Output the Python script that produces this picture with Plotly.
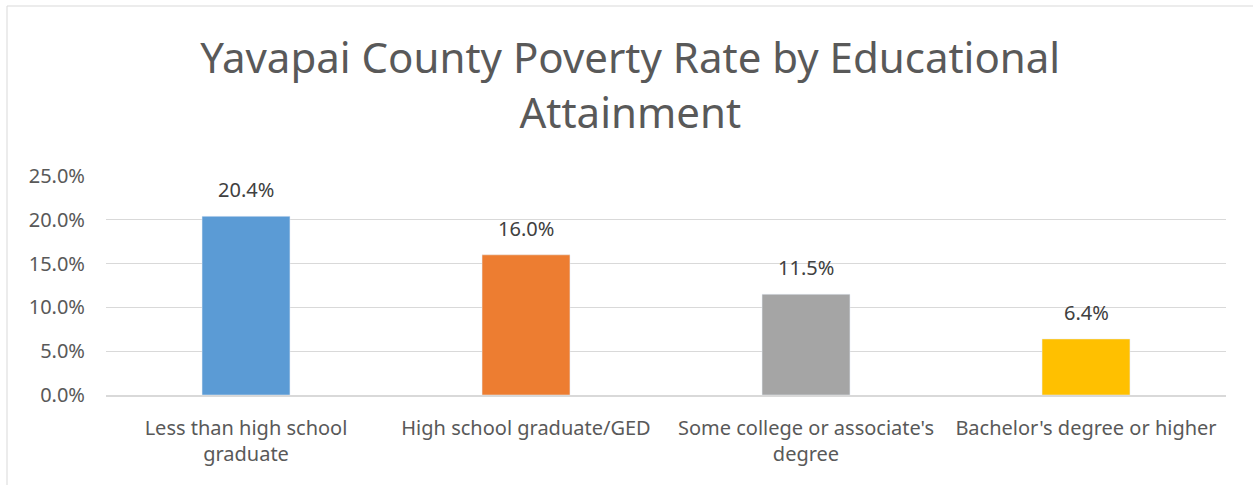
import plotly.graph_objects as go

categories = ["Less than high school<br>graduate", "High school graduate/GED",
              "Some college or associate's<br>degree", "Bachelor's degree or higher"]
values = [0.204, 0.160, 0.115, 0.064]
colors = ["#5B9BD5", "#ED7D31", "#A5A5A5", "#FFC000"]
tick_vals = [0, 0.05, 0.10, 0.15, 0.20, 0.25]
tick_text = ["0.0%", "5.0%", "10.0%", "15.0%", "20.0%", "25.0%"]
title = "Yavapai County Poverty Rate by Educational<br>Attainment"

W, H = 1253, 485
L, R, T, B = 106, 27, 176, 90
pw = W - L - R
ph = H - T - B

fig = go.Figure(go.Bar(
    x=categories, y=values, marker_color=colors, width=0.314,
    hoverinfo="x+y",
))

for c, v in zip(categories, values):
    fig.add_annotation(x=c, y=v, text=f"{v*100:.1f}%", showarrow=False,
                       yanchor="bottom", yshift=11,
                       font=dict(size=20, color="#404040"))

fig.update_layout(
    width=W, height=H,
    margin=dict(l=L, r=R, t=T, b=B),
    paper_bgcolor="white", plot_bgcolor="white",
    font=dict(family="Noto Sans", color="#595959"),
    title=dict(text=title, x=0.503, xanchor="center", xref="container",
               y=1 - 73 / H, yanchor="middle",
               font=dict(size=42, color="#595959")),
    showlegend=False,
    shapes=[dict(type="rect", xref="paper", yref="paper",
                 x0=(7 - L) / pw, x1=1.5, y0=-2, y1=(H - B - 6) / ph,
                 line=dict(color="#D9D9D9", width=1), layer="below")],
)
fig.update_yaxes(range=[0, 0.25], tickvals=tick_vals, ticktext=tick_text,
                 showgrid=True, gridcolor="#D9D9D9", gridwidth=1,
                 zeroline=False, showline=False, ticks="",
                 tickfont=dict(size=20, color="#595959"), ticklabelstandoff=20)
fig.update_xaxes(showline=True, linecolor="#D9D9D9", linewidth=1.5,
                 ticks="", tickfont=dict(size=20, color="#595959"),
                 ticklabelstandoff=14)

fig.write_html("out.html", config={"displayModeBar": False},
               post_script="document.body.style.margin='0px';")
